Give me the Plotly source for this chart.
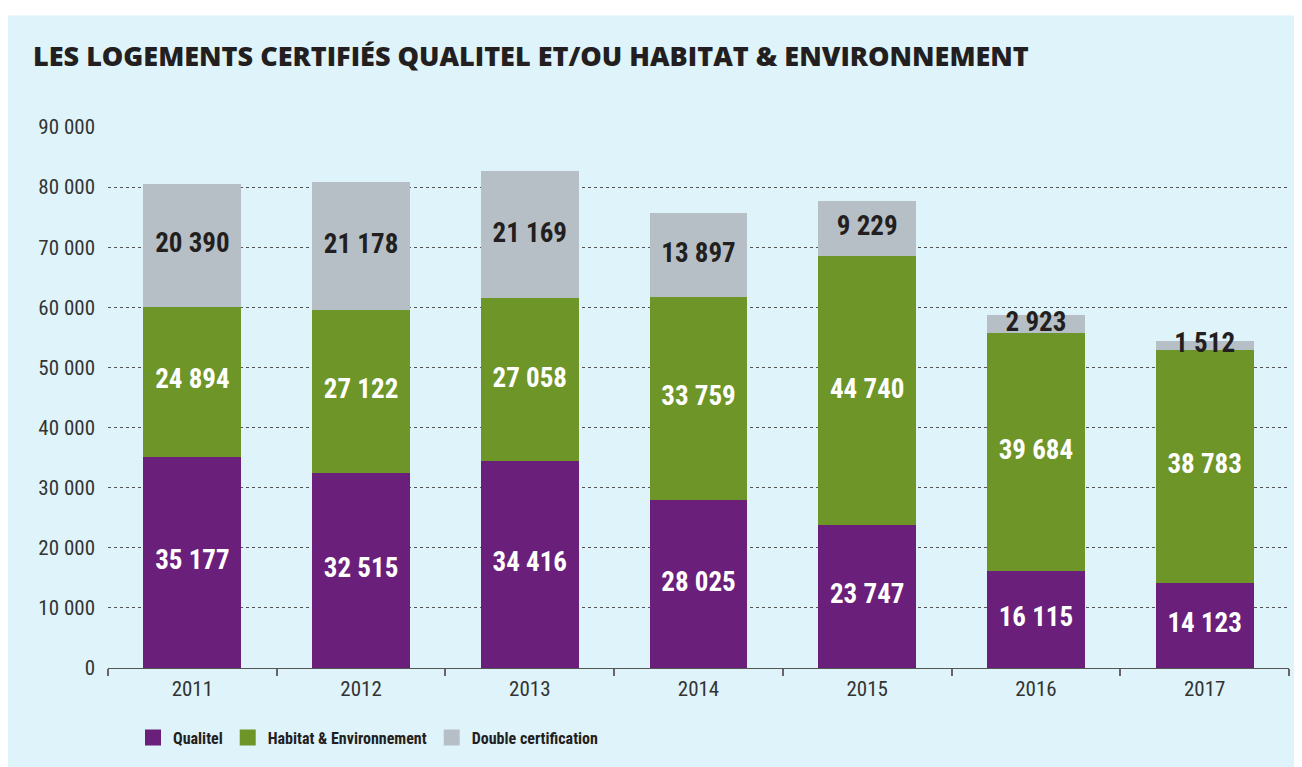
import plotly.graph_objects as go

years = ["2011", "2012", "2013", "2014", "2015", "2016", "2017"]
qualitel = [35177, 32515, 34416, 28025, 23747, 16115, 14123]
habitat_env = [24894, 27122, 27058, 33759, 44740, 39684, 38783]
double_cert = [20390, 21178, 21169, 13897, 9229, 2923, 1512]
y_ticks = [0, 10000, 20000, 30000, 40000, 50000, 60000, 70000, 80000, 90000]

series_names = ["Qualitel", "Habitat & Environnement", "Double certification"]
colors = ["#6a1f7a", "#6e9528", "#b7bfc6"]
label_colors = ["#ffffff", "#ffffff", "#231f20"]

# page has an 8px body margin; figure sized so it fills the 1302x767 window
OFF = 8
W, H = 1302 - OFF, 767 - OFF
ML, MR, MT, MB = 100, 13, 119, 96

NARROW = "Liberation Sans Narrow, Roboto Condensed, Roboto, sans-serif"

fig = go.Figure()
series = [qualitel, habitat_env, double_cert]
for name, vals, col in zip(series_names, series, colors):
    fig.add_trace(go.Bar(x=years, y=vals, name=name, marker=dict(color=col, line=dict(width=0)),
                         hoverinfo="skip", showlegend=False, legendgroup=name))

def fmt(v):
    return f"{v:,}".replace(",", " ")

base = [0] * len(years)
for vals, lc in zip(series, label_colors):
    centers = [b + v / 2 for b, v in zip(base, vals)]
    fig.add_trace(go.Scatter(x=years, y=centers, mode="text", text=[fmt(v) for v in vals],
                             textfont=dict(family=NARROW, size=27, color=lc, weight="bold"),
                             showlegend=False, hoverinfo="skip"))
    base = [b + v for b, v in zip(base, vals)]

# legend entries with larger square swatches
for name, col in zip(series_names, colors):
    fig.add_trace(go.Scatter(x=[years[0]], y=[None], mode="markers", name=name, legendgroup=name,
                             marker=dict(symbol="square", size=16, color=col, line=dict(width=0)),
                             hoverinfo="skip", showlegend=True))

pw = W - ML - MR
ph = H - MT - MB
def px_x(p):
    return (p - OFF - ML) / pw
def px_y(p):
    return (H - MB - (p - OFF)) / ph

shapes = [
    dict(type="rect", xref="paper", yref="paper", x0=px_x(0), x1=px_x(1302), y0=px_y(15), y1=px_y(0),
         fillcolor="white", line=dict(width=0), layer="below"),
]

fig.update_layout(
    width=W, height=H,
    barmode="stack", bargap=0.42,
    paper_bgcolor="#dff3fa", plot_bgcolor="#dff3fa",
    margin=dict(l=ML, r=MR, t=MT, b=MB),
    separators=", ",
    shapes=shapes,
    title=dict(text="LES LOGEMENTS CERTIFIÉS QUALITEL ET/OU HABITAT & ENVIRONNEMENT",
               x=(33 - OFF) / W, xanchor="left", xref="container",
               y=1 - (57 - OFF) / H, yanchor="middle", yref="container",
               font=dict(family="Open Sans, Lato, sans-serif", size=27, color="#231f20", weight=800)),
    legend=dict(orientation="h", x=px_x(133), xanchor="left", y=px_y(741), yanchor="middle",
                font=dict(family=NARROW, size=16, color="#231f20", weight="bold"),
                bgcolor="rgba(0,0,0,0)", traceorder="normal", itemclick=False, itemdoubleclick=False),
    xaxis=dict(type="category", tickson="boundaries", ticks="outside", ticklen=7, tickcolor="#666666",
               tickwidth=1.5, showgrid=False, showline=False, zeroline=False,
               tickfont=dict(family=NARROW, size=21, color="#333333"), ticklabelstandoff=6),
    yaxis=dict(range=[0, 90000], tickvals=y_ticks, tickformat=",", showgrid=True,
               gridcolor="#555555", griddash="dot", gridwidth=1,
               zeroline=True, zerolinecolor="#555555", zerolinewidth=1,
               showline=False, ticks="",
               tickfont=dict(family=NARROW, size=21, color="#333333"), ticklabelstandoff=12),
)

fig.write_html("out.html")
